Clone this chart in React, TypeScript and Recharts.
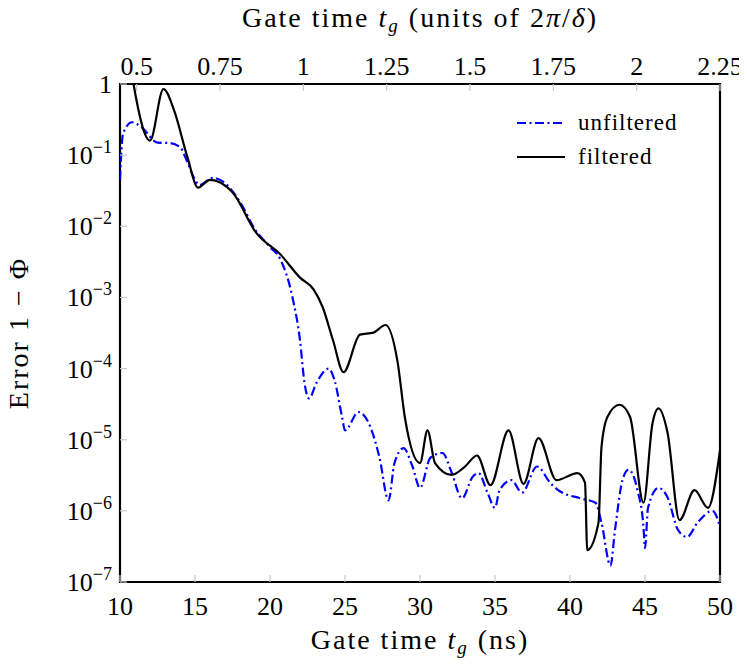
import { LineChart, Line, XAxis, YAxis, ReferenceArea, Label } from "recharts";

// gate time in ns, error 1 - Phi
const unfilteredTime = [
  10.0, 10.2, 10.8, 11.5, 12.5, 13.3, 14.0, 14.5, 15.0, 15.3, 16.2, 16.9, 18.0, 19.0, 20.0, 20.7,
  21.5, 22.0, 22.3, 22.6, 23.1, 23.9, 24.3, 24.8, 25.0, 25.9, 26.7, 27.3, 27.9, 28.3, 28.9, 29.5,
  30.0, 30.7, 31.5, 32.1, 32.8, 33.5, 33.9, 34.5, 35.0, 35.3, 36.1, 36.8, 37.8, 38.7, 39.3, 40.7,
  41.7, 42.1, 42.7, 43.0, 43.5, 43.9, 44.5, 44.9, 45.0, 45.2, 45.9, 46.5, 47.2, 47.8, 48.5, 49.5, 50.0,
];
const unfilteredError = [
  0.045, 0.2, 0.29, 0.24, 0.15, 0.148, 0.13, 0.079, 0.045, 0.038, 0.048, 0.042, 0.022, 0.009, 0.0051, 0.0034,
  0.001, 2.5e-4, 6.3e-5, 3.8e-5, 6.3e-5, 1.0e-4, 6.9e-5, 2.1e-5, 1.35e-5, 2.45e-5, 1.5e-5, 5.6e-6, 1.4e-6, 4.7e-6, 7.6e-6, 4.2e-6,
  2.1e-6, 5.6e-6, 6.5e-6, 3.5e-6, 1.5e-6, 3.0e-6, 3.4e-6, 1.8e-6, 1.1e-6, 1.95e-6, 2.7e-6, 1.8e-6, 4.2e-6, 2.45e-6, 1.9e-6, 1.5e-6,
  1.3e-6, 6.8e-7, 1.7e-7, 5.4e-7, 2.7e-6, 3.8e-6, 1.95e-6, 5.9e-7, 3.0e-7, 1.1e-6, 2.1e-6, 1.55e-6, 5.4e-7, 4.3e-7, 6.8e-7, 1.0e-6, 6.0e-7,
];

const filteredTime = [
  10.6, 10.9, 12.0, 12.9, 13.6, 14.5, 15.2, 16.0, 17.5, 19.1, 20.7, 22.0, 22.9, 23.5, 24.2, 24.9,
  26.0, 26.9, 27.7, 28.5, 29.0, 30.0, 30.5, 31.0, 32.1, 33.0, 33.8, 34.7, 35.9, 36.9, 37.9, 39.1,
  40.5, 41.0, 41.15, 41.9, 42.1, 42.5, 43.3, 44.0, 44.9, 45.5, 45.9, 46.5, 47.3, 48.3, 49.2, 50.0,
];
const filteredError = [
  2.5, 1.0, 0.16, 0.85, 0.43, 0.093, 0.035, 0.045, 0.03, 0.008, 0.004, 0.0019, 0.0013, 7.4e-4, 2.5e-4, 8.9e-5,
  3.0e-4, 3.2e-4, 4.1e-4, 1.26e-4, 2.0e-5, 4.7e-6, 1.35e-5, 4.7e-6, 3.2e-6, 4.2e-6, 6.0e-6, 2.3e-6, 1.35e-5, 2.4e-6, 1.05e-5, 2.7e-6,
  3.4e-6, 2.5e-6, 2.8e-7, 6.8e-7, 7.9e-6, 2.1e-5, 3.1e-5, 2.1e-5, 1.3e-6, 1.7e-5, 2.75e-5, 1.26e-5, 7.4e-7, 1.95e-6, 1.1e-6, 7.1e-6,
];

const bottomTicks = [10, 15, 20, 25, 30, 35, 40, 45, 50];
const topTicks = [0.5, 0.75, 1, 1.25, 1.5, 1.75, 2, 2.25]; // units of 2pi/delta
const nsPerUnit = 50 / 2.25;
const yTicks = [1e-7, 1e-6, 1e-5, 1e-4, 1e-3, 1e-2, 1e-1, 1];

const unfilteredData = unfilteredTime.map((t, i) => ({ time: t, error: unfilteredError[i] }));
const filteredData = filteredTime.map((t, i) => ({ time: t, error: filteredError[i] }));

const FONT = "'Liberation Serif', 'DejaVu Serif', serif";
const TICK_SIZE = 26;
const LABEL_SIZE = 28;
const LABEL_SPACING = 2;
const TICK_GRAY = "#c8c8c8";

const BottomTick = ({ x, y, payload }: any) => (
  <g>
    <line x1={x} x2={x} y1={y} y2={y - 7} stroke={TICK_GRAY} strokeWidth={1.2} />
    <text x={x} y={y + 33} textAnchor="middle" fontFamily={FONT} fontSize={TICK_SIZE} fill="#000">
      {payload.value}
    </text>
  </g>
);

const TopTick = ({ x, y, payload }: any) => {
  const units = Math.round((payload.value / nsPerUnit) * 100) / 100;
  return (
    <g>
      <line x1={x} x2={x} y1={y} y2={y + 7} stroke={TICK_GRAY} strokeWidth={1.2} />
      <text x={x} y={y - 9} textAnchor="middle" fontFamily={FONT} fontSize={TICK_SIZE} fill="#000">
        {String(units)}
      </text>
    </g>
  );
};

const LeftTick = ({ x, y, payload }: any) => {
  const k = Math.round(Math.log10(payload.value));
  return (
    <g>
      <line x1={x} x2={x + 7} y1={y} y2={y} stroke={TICK_GRAY} strokeWidth={1.2} />
      {k === 0 ? (
        <text x={x - 8} y={y + 9} textAnchor="end" fontFamily={FONT} fontSize={TICK_SIZE} fill="#000">
          1
        </text>
      ) : (
        <text x={x - 8} y={y + 9} textAnchor="end" fontFamily={FONT} fontSize={TICK_SIZE} fill="#000">
          10
          <tspan dy={-11} fontSize={18}>
            {"\u2212" + String(-k)}
          </tspan>
        </text>
      )}
    </g>
  );
};

const App = () => {
  return (
    <div style={{ position: "relative", width: 747, height: 667, margin: -8 }}>
      <LineChart
        width={747}
        height={667}
        margin={{ top: 0, right: 27, bottom: 0, left: 0 }}
        style={{ overflow: "visible" }}
      >
        <XAxis
          dataKey="time"
          type="number"
          domain={[10, 50]}
          ticks={bottomTicks}
          interval={0}
          allowDataOverflow
          axisLine={false}
          tickLine={false}
          tickSize={0}
          tickMargin={0}
          height={85}
          tick={<BottomTick />}
        >
          <Label
            content={({ viewBox }: any) => (
              <text
                x={viewBox.x + viewBox.width / 2}
                y={viewBox.y + viewBox.height - 18}
                textAnchor="middle"
                fontFamily={FONT}
                fontSize={LABEL_SIZE}
                letterSpacing={LABEL_SPACING}
              >
                Gate time <tspan fontStyle="italic">t</tspan>
                <tspan dy={5} fontSize={19} fontStyle="italic">g</tspan>
                <tspan dy={-5}> (ns)</tspan>
              </text>
            )}
          />
        </XAxis>
        <XAxis
          xAxisId="top"
          dataKey="time"
          orientation="top"
          type="number"
          domain={[10, 50]}
          ticks={topTicks.map((u) => u * nsPerUnit)}
          interval={0}
          allowDataOverflow
          axisLine={false}
          tickLine={false}
          tickSize={0}
          tickMargin={0}
          height={84}
          tick={<TopTick />}
        >
          <Label
            content={({ viewBox }: any) => (
              <text
                x={viewBox.x + viewBox.width / 2}
                y={viewBox.y + 27}
                textAnchor="middle"
                fontFamily={FONT}
                fontSize={LABEL_SIZE}
                letterSpacing={LABEL_SPACING}
              >
                Gate time <tspan fontStyle="italic">t</tspan>
                <tspan dy={5} fontSize={19} fontStyle="italic">g</tspan>
                <tspan dy={-5}> (units of 2</tspan>
                <tspan fontStyle="italic">π</tspan>/<tspan fontStyle="italic">δ</tspan>)
              </text>
            )}
          />
        </XAxis>
        <YAxis
          scale="log"
          type="number"
          domain={[1e-7, 1]}
          ticks={yTicks}
          interval={0}
          allowDataOverflow
          axisLine={false}
          tickLine={false}
          tickSize={0}
          tickMargin={0}
          width={120}
          tick={<LeftTick />}
        >
          <Label
            content={({ viewBox }: any) => {
              const cx = viewBox.x + 28;
              const cy = viewBox.y + viewBox.height / 2;
              return (
                <text
                  x={cx}
                  y={cy}
                  transform={`rotate(-90 ${cx} ${cy})`}
                  textAnchor="middle"
                  fontFamily={FONT}
                  fontSize={LABEL_SIZE}
                  letterSpacing={LABEL_SPACING}
                >
                  Error 1 − Φ
                </text>
              );
            }}
          />
        </YAxis>
        <Line
          xAxisId="top"
          data={filteredData}
          dataKey="error"
          stroke="none"
          dot={false}
          activeDot={false}
          isAnimationActive={false}
        />
        <Line
          data={unfilteredData}
          dataKey="error"
          type="monotone"
          stroke="#0000ff"
          strokeWidth={2.2}
          strokeDasharray="9 3.5 2 3.5"
          dot={false}
          activeDot={false}
          isAnimationActive={false}
        />
        <Line
          data={filteredData}
          dataKey="error"
          type="monotone"
          stroke="#000000"
          strokeWidth={2.2}
          dot={false}
          activeDot={false}
          isAnimationActive={false}
        />
        <ReferenceArea x1={10} x2={50} y1={1e-7} y2={1} fill="none" stroke="#000" strokeWidth={2.2} />
      </LineChart>
      <svg
        width={230}
        height={70}
        style={{ position: "absolute", left: 508, top: 106 }}
        fontFamily={FONT}
      >
        <line x1={9} x2={57} y1={17} y2={17} stroke="#0000ff" strokeWidth={2.2} strokeDasharray="9 3.5 2 3.5" />
        <text x={70} y={24} fontSize={23} letterSpacing={1}>unfiltered</text>
        <line x1={9} x2={57} y1={51} y2={51} stroke="#000" strokeWidth={2.2} />
        <text x={70} y={58} fontSize={23} letterSpacing={1}>filtered</text>
      </svg>
    </div>
  );
};

export default App;
